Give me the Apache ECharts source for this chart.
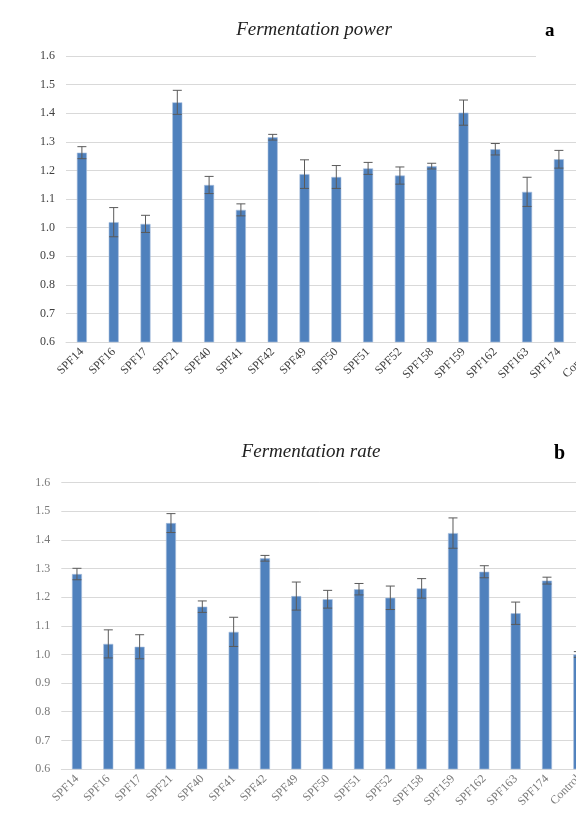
<!DOCTYPE html>
<html>
<head>
<meta charset="utf-8">
<script src="https://cdn.jsdelivr.net/npm/echarts@6/dist/echarts.min.js"></script>
<style>
  html, body { margin: 0; padding: 0; background: #fff; }
  #chart { width: 576px; height: 814px; }
</style>
</head>
<body>
<div id="chart"></div>
<script>
const strains = ['SPF14', 'SPF16', 'SPF17', 'SPF21', 'SPF40', 'SPF41', 'SPF42', 'SPF49', 'SPF50',
  'SPF51', 'SPF52', 'SPF158', 'SPF159', 'SPF162', 'SPF163', 'SPF174', 'Control']

// fermentation power (panel a)
const powerMean = [1.262, 1.019, 1.013, 1.438, 1.149, 1.062, 1.316, 1.187, 1.177,
  1.207, 1.182, 1.215, 1.402, 1.274, 1.125, 1.239, 1.000]
const powerErr = [0.021, 0.051, 0.030, 0.042, 0.030, 0.021, 0.010, 0.050, 0.040,
  0.021, 0.030, 0.010, 0.044, 0.020, 0.051, 0.031, 0.010]

// fermentation rate (panel b)
const rateMean = [1.281, 1.037, 1.027, 1.459, 1.167, 1.079, 1.336, 1.204, 1.193,
  1.228, 1.198, 1.231, 1.424, 1.289, 1.144, 1.258, 1.000]
const rateErr = [0.020, 0.049, 0.042, 0.033, 0.020, 0.051, 0.010, 0.049, 0.031,
  0.020, 0.041, 0.034, 0.053, 0.021, 0.039, 0.012, 0.010]

const yTicks = [0.6, 0.7, 0.8, 0.9, 1.0, 1.1, 1.2, 1.3, 1.4, 1.5, 1.6]

const serif = '"Liberation Serif", "DejaVu Serif", serif'
const barColor = '#4f81bd'
const gridColor = '#d9d9d9'

function errData(mean, err) {
  return mean.map((m, i) => [i, m - err[i], m + err[i]])
}

function errSeries(idx, mean, err) {
  return {
    type: 'custom',
    xAxisIndex: idx,
    yAxisIndex: idx,
    z: 5,
    data: errData(mean, err),
    renderItem: (params, api) => {
      const lo = api.coord([api.value(0), api.value(1)])
      const hi = api.coord([api.value(0), api.value(2)])
      const cap = 4.5
      const style = { stroke: '#5a5a5a', lineWidth: 1 }
      return {
        type: 'group',
        children: [
          { type: 'line', shape: { x1: hi[0], y1: hi[1], x2: lo[0], y2: lo[1] }, style },
          { type: 'line', shape: { x1: hi[0] - cap, y1: hi[1], x2: hi[0] + cap, y2: hi[1] }, style },
          { type: 'line', shape: { x1: lo[0] - cap, y1: lo[1], x2: lo[0] + cap, y2: lo[1] }, style },
        ],
      }
    },
  }
}

function xAx(idx, color) {
  return {
    type: 'category',
    gridIndex: idx,
    data: strains,
    axisLine: { lineStyle: { color: gridColor } },
    axisTick: { show: false },
    axisLabel: { interval: 0, rotate: 45, color, fontFamily: serif, fontSize: 12, margin: 8 },
  }
}

function yAx(idx, color) {
  return {
    type: 'value',
    gridIndex: idx,
    min: yTicks[0],
    max: yTicks[yTicks.length - 1],
    interval: 0.1,
    axisLine: { show: false },
    axisTick: { show: false },
    axisLabel: { color, fontFamily: serif, fontSize: 12, margin: 11, formatter: v => v.toFixed(1) },
    splitLine: { lineStyle: { color: gridColor } },
  }
}

const chart = echarts.init(document.getElementById('chart'), null, { renderer: 'canvas' })
chart.setOption({
  animation: false,
  title: [
    { text: 'Fermentation power', left: 309, top: 15, textAlign: 'center',
      textStyle: { fontFamily: serif, fontStyle: 'italic', fontWeight: 'normal', fontSize: 19, color: '#222' } },
    { text: 'Fermentation rate', left: 306, top: 437, textAlign: 'center',
      textStyle: { fontFamily: serif, fontStyle: 'italic', fontWeight: 'normal', fontSize: 19, color: '#222' } },
  ],
  graphic: [
    { type: 'rect', left: 536, top: 18, shape: { width: 40, height: 40 }, style: { fill: '#fff' }, z: 100 },
    { type: 'text', left: 545, top: 22, z: 101,
      style: { text: 'a', font: 'bold 19px ' + serif, fill: '#000' } },
    { type: 'text', left: 554, top: 444, z: 101,
      style: { text: 'b', font: 'bold 20px ' + serif, fill: '#000' } },
  ],
  grid: [
    { left: 66, top: 56, width: 540.6, height: 286, outerBoundsMode: 'none', containLabel: false },
    { left: 61.3, top: 482.7, width: 532.7, height: 286.3, outerBoundsMode: 'none', containLabel: false },
  ],
  xAxis: [xAx(0, '#404040'), xAx(1, '#7a7a7a')],
  yAxis: [yAx(0, '#404040'), yAx(1, '#7a7a7a')],
  series: [
    { type: 'bar', xAxisIndex: 0, yAxisIndex: 0, data: powerMean, barWidth: 10,
      itemStyle: { color: barColor, borderColor: '#a9c0de', borderWidth: 0.6 } },
    errSeries(0, powerMean, powerErr),
    { type: 'bar', xAxisIndex: 1, yAxisIndex: 1, data: rateMean, barWidth: 10,
      itemStyle: { color: barColor, borderColor: '#a9c0de', borderWidth: 0.6 } },
    errSeries(1, rateMean, rateErr),
  ],
})
</script>
</body>
</html>
